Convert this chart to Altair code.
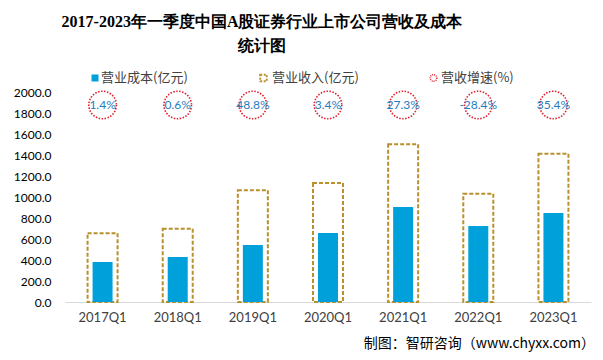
import altair as alt
import pandas as pd

quarters = ["2017Q1", "2018Q1", "2019Q1", "2020Q1", "2021Q1", "2022Q1", "2023Q1"]
revenue = [654, 698, 1064, 1133, 1502, 1032, 1413]
cost = [381, 428, 543, 657, 905, 724, 848]
growth = ["1.4%", "0.6%", "48.8%", "3.4%", "27.3%", "-28.4%", "35.4%"]

title_lines = ["2017-2023年一季度中国A股证券行业上市公司营收及成本", "统计图"]
legend_labels = ["营业成本(亿元)", "营业收入(亿元)", "营收增速(%)"]
source_text = "制图：智研咨询（www.chyxx.com）"

df = pd.DataFrame({"quarter": quarters, "revenue": revenue, "cost": cost, "growth": growth})

CJK = "Noto Sans CJK SC"
NUM = "Lato"

x_enc = alt.X("quarter:N", sort=quarters, title=None,
              scale=alt.Scale(paddingInner=0.2, paddingOuter=0.1),
              axis=alt.Axis(labelAngle=0, ticks=False, domainColor="#D9D9D9", domainWidth=1,
                            labelFontSize=13, labelColor="#404040", labelFont=NUM,
                            labelPadding=9))
y_scale = alt.Scale(domain=[0, 2000], nice=False)
y_axis = alt.Axis(values=list(range(0, 2001, 200)), format=".1f", domain=False, ticks=False,
                  grid=False, labelFontSize=12, labelColor="#000000", labelFont=NUM,
                  labelPadding=14)

base = alt.Chart(df)

rev_bar = base.mark_bar(size=30, fill=None, fillOpacity=0, stroke="#B8902C", strokeWidth=2,
                        strokeDash=[4, 2]).encode(
    x=x_enc, y=alt.Y("revenue:Q", scale=y_scale, axis=y_axis, title=None))

cost_bar = base.mark_bar(size=20, color="#00A0DA").encode(
    x=x_enc, y=alt.Y("cost:Q", scale=y_scale, axis=y_axis, title=None))

circles = base.mark_point(shape="circle", size=760, filled=False, stroke="#E0202E",
                          strokeWidth=1.6, strokeDash=[1.5, 1.5], opacity=1).encode(
    x=x_enc, y=alt.value(13))

circle_text = base.mark_text(fontSize=12, color="#1F7DC0", font=NUM).encode(
    x=x_enc, y=alt.value(13), text="growth:N")

one = pd.DataFrame({"a": [0]})


def txt(text, x, y, size, font, color="#000000", align="left", weight="normal"):
    return alt.Chart(one).mark_text(text=text, fontSize=size, font=font, color=color,
                                    align=align, baseline="middle", fontWeight=weight).encode(
        x=alt.value(x), y=alt.value(y))


title1 = txt(title_lines[0], 197, -70, 16, "Liberation Serif", align="center", weight="bold")
title2 = txt(title_lines[1], 197, -46, 16, "Liberation Serif", align="center", weight="bold")

leg_y = -14
leg1 = txt(legend_labels[0], 36, leg_y, 13, CJK, color="#404040")
leg2 = txt(legend_labels[1], 207, leg_y, 13, CJK, color="#404040")
leg3 = txt(legend_labels[2], 376, leg_y, 13, CJK, color="#404040")

leg_sq = alt.Chart(one).mark_point(shape="square", filled=True, size=49, color="#00A0DA",
                                   opacity=1).encode(x=alt.value(30), y=alt.value(leg_y))
leg_box = alt.Chart(one).mark_point(shape="square", filled=False, size=42, stroke="#B8902C",
                                    strokeWidth=2, strokeDash=[2, 1.5], opacity=1).encode(
    x=alt.value(198.5), y=alt.value(leg_y))
leg_circ = alt.Chart(one).mark_point(shape="circle", filled=False, size=45, stroke="#E0202E",
                                     strokeWidth=1.5, strokeDash=[1, 1], opacity=1).encode(
    x=alt.value(368.5), y=alt.value(leg_y))

source = txt(source_text, 530, 252, 14, CJK, align="right")

chart = alt.layer(rev_bar, cost_bar, circles, circle_text, title1, title2,
                  leg1, leg2, leg3, leg_sq, leg_box, leg_circ, source).properties(
    width=526, height=210,
    padding={"left": 57, "top": 84, "right": 4, "bottom": 50},
    autosize=alt.AutoSizeParams(type="none"),
    background="white",
).configure_view(stroke=None)

chart.save("out.html", embed_options={"renderer": "svg", "actions": False})
